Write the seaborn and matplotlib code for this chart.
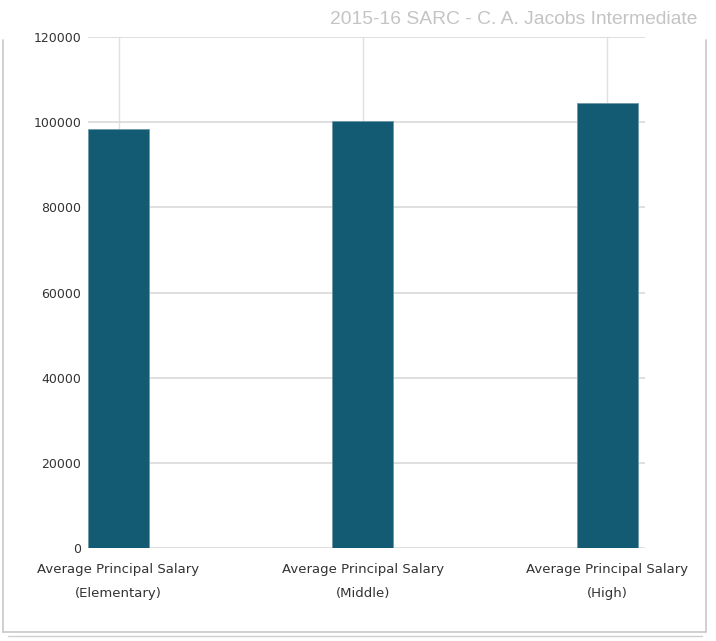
import matplotlib
matplotlib.use("Agg")
import matplotlib.pyplot as plt
import seaborn as sns
import pandas as pd
from matplotlib.lines import Line2D

categories = ["Average Principal Salary\n(Elementary)",
              "Average Principal Salary\n(Middle)",
              "Average Principal Salary\n(High)"]
salaries = [98300, 100300, 104500]
yticks = [0, 20000, 40000, 60000, 80000, 100000, 120000]
title = "2015-16 SARC - C. A. Jacobs Intermediate"

df = pd.DataFrame({"category": categories, "salary": salaries})

sns.set_theme(style="white")
plt.rcParams['font.family'] = ['DejaVu Sans']

fig = plt.figure(figsize=(7.16, 6.41), dpi=100)
W, H = 716, 641
ax = fig.add_axes([88 / W, (H - 548) / H, (645 - 88) / W, (548 - 37) / H])

sns.barplot(data=df, x="category", y="salary", color="#135a73", width=0.25,
            edgecolor="#6f98a8", linewidth=0.6, saturation=1, ax=ax, zorder=3)

ax.set_xlim(-0.125, 2.155)
ax.set_ylim(0, 120000)
ax.set_yticks(yticks)
ax.set_yticklabels([str(v) for v in yticks])
ax.set_xlabel("")
ax.set_ylabel("")
ax.grid(True, axis="y", color="#d9d9d9", linewidth=1.2, zorder=0)
ax.grid(True, axis="x", color="#e0e0e0", linewidth=1.0, zorder=0)
for s in ax.spines.values():
    s.set_visible(False)
ax.tick_params(axis="both", length=0, colors="#333333")
ax.tick_params(axis="y", labelsize=9, pad=5)
ax.tick_params(axis="x", labelsize=9.5, pad=11)
for lbl in ax.get_xticklabels():
    lbl.set_linespacing(2.1)
    lbl.set_fontfamily("DejaVu Sans")

fig.text(697 / W, 1 - 20 / H, title, ha="right", va="center",
         color="#c4c4c4", fontsize=13.85, fontfamily="Liberation Sans")

# outer frame (left, right, bottom with shadow)
fig.add_artist(Line2D([3 / W, 3 / W], [1 - 40 / H, 1 - 632 / H],
                      transform=fig.transFigure, color="#c8c8c8", linewidth=1.2))
fig.add_artist(Line2D([706 / W, 706 / W], [1 - 40 / H, 1 - 632 / H],
                      transform=fig.transFigure, color="#c8c8c8", linewidth=1.2))
fig.add_artist(Line2D([3 / W, 706 / W], [1 - 632 / H, 1 - 632 / H],
                      transform=fig.transFigure, color="#c8c8c8", linewidth=1.2))
fig.add_artist(Line2D([8 / W, 702 / W], [1 - 636 / H, 1 - 636 / H],
                      transform=fig.transFigure, color="#cfcfcf", linewidth=1.0))

fig.savefig("out.png", dpi=100)
